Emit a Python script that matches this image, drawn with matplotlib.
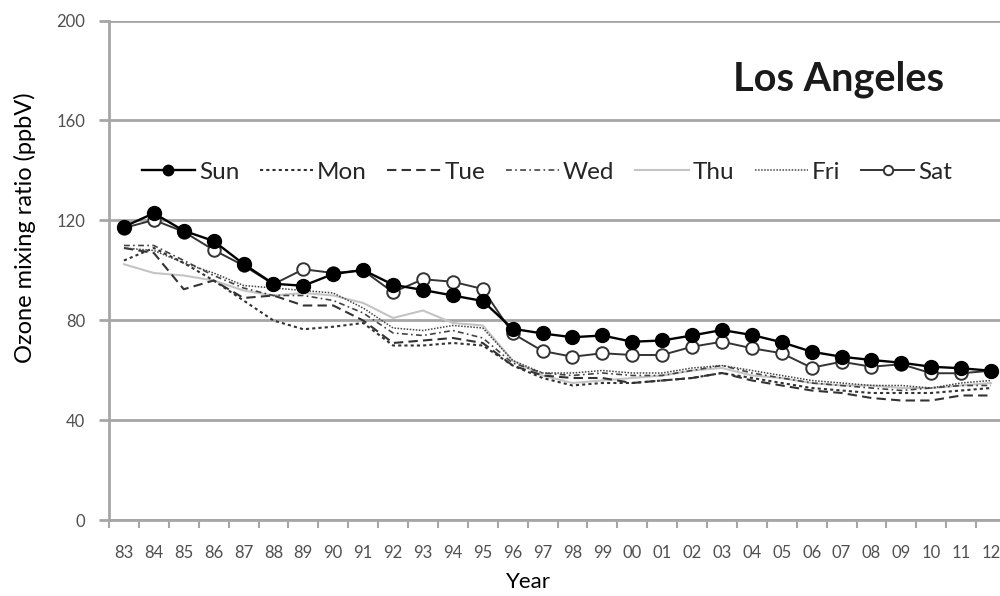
import matplotlib.pyplot as plt
import numpy as np

years = ["83", "84", "85", "86", "87", "88", "89", "90", "91", "92",
         "93", "94", "95", "96", "97", "98", "99", "00", "01", "02",
         "03", "04", "05", "06", "07", "08", "09", "10", "11", "12"]

sun = [117.5, 122.9, 115.9, 111.8, 102.6, 94.7, 93.9, 98.6, 100.2, 94.3,
       92.2, 90.0, 87.8, 76.7, 74.8, 73.3, 74.0, 71.5, 72.0, 74.0,
       76.2, 74.2, 71.3, 67.5, 65.5, 64.2, 63.1, 61.5, 60.9, 59.9]
mon = [104, 109, 103, 96, 88, 80, 76.5, 77.5, 79, 70,
       70, 71, 70, 62, 57, 54, 55, 55, 56, 57,
       59, 57, 55, 53, 52, 51, 51, 51, 52, 53]
tue = [109, 107, 92.5, 96, 89, 90, 86, 86, 80, 71,
       72, 73, 71, 62, 58, 57, 57, 55, 56, 57,
       59, 56, 54, 52, 51, 49, 48, 48, 50, 50]
wed = [110, 110, 104, 98, 93, 90, 90, 88, 83, 75,
       74, 76, 73, 63, 59, 58, 59, 58, 58, 60,
       62, 59, 57, 55, 54, 53, 52, 53, 54, 54]
thu = [102.5, 99, 98, 96, 92, 90, 91, 90, 87, 81,
       84, 79, 78, 64, 58, 55, 56, 57, 58, 60,
       61, 58, 57, 55, 54, 54, 53, 53, 54, 55]
fri = [109, 108, 103, 99, 94, 93, 92, 91, 85, 77,
       76, 78, 77, 64, 59, 59, 60, 59, 59, 61,
       62, 60, 58, 56, 55, 54, 54, 53, 55, 56]
sat = [117.0, 120.2, 115.5, 108.2, 102.0, 94.5, 100.5, 99.0, 100.0, 91.3,
       96.5, 95.5, 92.6, 74.8, 67.8, 65.5, 66.9, 66.2, 66.2, 69.5,
       71.5, 68.9, 66.9, 61.1, 63.5, 61.5, 62.5, 58.9, 58.9, 59.9]

series = [
    ("Sun", sun, dict(color="black", lw=1.7, marker="o", ms=10, mfc="black", mec="black", zorder=6)),
    ("Mon", mon, dict(color="#333333", lw=1.5, dashes=(1.5, 1.5), zorder=4)),
    ("Tue", tue, dict(color="#333333", lw=1.5, dashes=(4.5, 2.5), zorder=4)),
    ("Wed", wed, dict(color="#444444", lw=1.2, dashes=(3.5, 2, 1, 2), zorder=4)),
    ("Thu", thu, dict(color="#c4c4c4", lw=1.5, zorder=3)),
    ("Fri", fri, dict(color="#444444", lw=1.1, dashes=(1, 1), zorder=4)),
    ("Sat", sat, dict(color="#333333", lw=1.4, marker="o", ms=9, mfc="white", mec="#333333", mew=1.4, zorder=5)),
]

plt.rcParams.update({"font.family": ["Lato", "DejaVu Sans"]})
grid_col = "#a6a6a6"
tick_col = "#505050"

fig = plt.figure(figsize=(10, 5.96), dpi=100)
ax = fig.add_axes([0.109, 0.1267, 0.897, 0.8389])
x = np.arange(len(years))

for name, vals, style in series:
    ax.plot(x, vals, label=name, **style)

ax.set_xlim(-0.5, len(years) - 0.5)
ax.set_ylim(0, 200)
ax.set_yticks(np.arange(0, 201, 40))
ax.grid(axis="y", color=grid_col, lw=2)
ax.set_axisbelow(True)

ax.set_xticks(x)
ax.set_xticklabels(years)
ax.set_xticks(np.arange(-0.5, len(years), 1), minor=True)
ax.tick_params(axis="x", which="major", length=0, pad=18, labelsize=12, labelcolor=tick_col)
ax.tick_params(axis="x", which="minor", length=6, width=1.5, color=grid_col)
ax.tick_params(axis="y", length=7, width=2, color=grid_col, pad=10, labelsize=12, labelcolor=tick_col)

for side in ("top", "right"):
    ax.spines[side].set_visible(False)
for side in ("left", "bottom"):
    ax.spines[side].set_color(grid_col)
    ax.spines[side].set_linewidth(2)

ax.text(0.813, 0.882, "Los Angeles", transform=ax.transAxes, ha="center", va="center",
        fontsize=28.5, fontweight="bold", color="#1a1a1a")

ax.legend(loc="center", bbox_to_anchor=(0.488, 0.697), ncol=7, frameon=False,
          fontsize=17.5, handlelength=2.2, handletextpad=0.15, columnspacing=0.85,
          numpoints=1, markerscale=0.75, labelcolor="#262626")

fig.text(0.025, 1 - 228 / 596, "Ozone mixing ratio (ppbV)", rotation=90,
         ha="center", va="center", fontsize=17)
fig.text(0.528, 1 - 582 / 596, "Year", ha="center", va="center", fontsize=16)

fig.savefig("out.png", dpi=100)
